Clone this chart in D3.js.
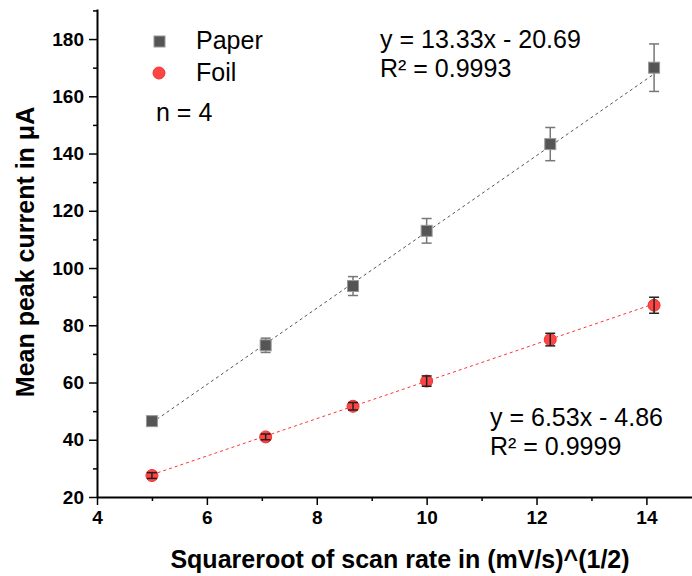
<!DOCTYPE html>
<html>
<head>
<meta charset="utf-8">
<script src="https://cdn.jsdelivr.net/npm/d3@7"></script>
<style>
  body { margin: 0; background: #fff; }
  text { font-family: "Liberation Sans", Arial, sans-serif; }
</style>
</head>
<body>
<script>
var width = 692,
    height = 576;

// data
var scanRoot = [5, 7.07, 8.66, 10, 12.25, 14.14];
var paperMean = [46.5, 73, 93.7, 113, 143.3, 170];
var paperErr = [1.5, 2.5, 3.3, 4.3, 5.8, 8.3];
var foilMean = [27.5, 41, 51.7, 60.5, 75, 87];
var foilErr = [1, 1, 1.3, 1.8, 2.2, 2.8];
var paperFit = [13.33, -20.69];
var foilFit = [6.53, -4.86];
var xTicks = [4, 6, 8, 10, 12, 14];
var yTicks = [20, 40, 60, 80, 100, 120, 140, 160, 180];

var x = d3.scaleLinear().domain([4, 14.83]).range([97, 692]);
var y = d3.scaleLinear().domain([20, 190.5]).range([497, 9]);

var svg = d3.select("body").append("svg")
    .attr("width", width)
    .attr("height", height);

// axes
svg.append("g")
    .attr("transform", "translate(0,497)")
    .call(d3.axisBottom(x).tickValues(xTicks).tickSize(8).tickSizeOuter(0).tickPadding(6));
svg.append("g")
    .attr("transform", "translate(0,497)")
    .call(d3.axisBottom(x).tickValues(d3.range(5, 14, 2)).tickSize(4).tickFormat(""))
    .select(".domain").remove();

svg.append("g")
    .attr("transform", "translate(97,0)")
    .call(d3.axisLeft(y).tickValues(yTicks).tickSize(8).tickSizeOuter(0).tickPadding(5));
svg.append("g")
    .attr("transform", "translate(97,0)")
    .call(d3.axisLeft(y).tickValues(d3.range(30, 191, 20)).tickSize(4).tickFormat(""))
    .select(".domain").remove();

svg.selectAll(".domain").attr("stroke-width", 2).attr("stroke", "#000");
svg.selectAll(".tick line").attr("stroke-width", 1.5).attr("stroke", "#000");
svg.selectAll(".tick text")
    .attr("font-size", "19px")
    .attr("font-weight", "bold")
    .attr("fill", "#000")
    .style("font-family", "Liberation Sans, Arial, sans-serif");

// axis titles
svg.append("text")
    .attr("x", 400)
    .attr("y", 568)
    .attr("text-anchor", "middle")
    .attr("font-size", "25px")
    .attr("font-weight", "bold")
    .text("Squareroot of scan rate in (mV/s)^(1/2)");

svg.append("text")
    .attr("transform", "translate(34,252) rotate(-90)")
    .attr("text-anchor", "middle")
    .attr("font-size", "25px")
    .attr("font-weight", "bold")
    .text("Mean peak current in μA");

// fit lines
function fitLine(fit, color) {
  var x0 = scanRoot[0], x1 = scanRoot[scanRoot.length - 1];
  svg.append("line")
      .attr("x1", x(x0)).attr("y1", y(fit[0] * x0 + fit[1]))
      .attr("x2", x(x1)).attr("y2", y(fit[0] * x1 + fit[1]))
      .attr("stroke", color)
      .attr("stroke-width", 1)
      .attr("stroke-dasharray", "3,3");
}
fitLine(paperFit, "#555");
fitLine(foilFit, "#f33");

// error bars
function errBars(means, errs, color) {
  var g = svg.append("g").attr("stroke", color).attr("stroke-width", 1.5);
  scanRoot.forEach(function(d, i) {
    var top = y(means[i] + errs[i]), bot = y(means[i] - errs[i]), cx = x(d);
    g.append("line").attr("x1", cx).attr("x2", cx).attr("y1", top).attr("y2", bot);
    g.append("line").attr("x1", cx - 5).attr("x2", cx + 5).attr("y1", top).attr("y2", top);
    g.append("line").attr("x1", cx - 5).attr("x2", cx + 5).attr("y1", bot).attr("y2", bot);
  });
}
errBars(paperMean, paperErr, "#777");

// paper squares
svg.selectAll(".paper")
    .data(scanRoot)
    .enter()
    .append("rect")
    .attr("x", function(d) { return x(d) - 5.5; })
    .attr("y", function(d, i) { return y(paperMean[i]) - 5.5; })
    .attr("width", 11)
    .attr("height", 11)
    .attr("fill", "#555")
    .attr("stroke", "#999")
    .attr("stroke-width", 1);

// foil circles
svg.selectAll(".foil")
    .data(scanRoot)
    .enter()
    .append("circle")
    .attr("cx", function(d) { return x(d); })
    .attr("cy", function(d, i) { return y(foilMean[i]); })
    .attr("r", 6)
    .attr("fill", "#f44")
    .attr("stroke", "#e33")
    .attr("stroke-width", 1);
errBars(foilMean, foilErr, "#222");

// legend
svg.append("rect")
    .attr("x", 154).attr("y", 36).attr("width", 11).attr("height", 11)
    .attr("fill", "#555").attr("stroke", "#999");
svg.append("text").attr("x", 196).attr("y", 49).attr("font-size", "25px").text("Paper");
svg.append("circle")
    .attr("cx", 159).attr("cy", 73).attr("r", 6)
    .attr("fill", "#f44").attr("stroke", "#e33");
svg.append("text").attr("x", 196).attr("y", 81).attr("font-size", "25px").text("Foil");
svg.append("text").attr("x", 156).attr("y", 121).attr("font-size", "25px").text("n = 4");

// equations
svg.append("text").attr("x", 380).attr("y", 48).attr("font-size", "25px").text("y = 13.33x - 20.69");
svg.append("text").attr("x", 380).attr("y", 77).attr("font-size", "25px").text("R² = 0.9993");
svg.append("text").attr("x", 490).attr("y", 426).attr("font-size", "25px").text("y = 6.53x - 4.86");
svg.append("text").attr("x", 490).attr("y", 455).attr("font-size", "25px").text("R² = 0.9999");
</script>
</body>
</html>
